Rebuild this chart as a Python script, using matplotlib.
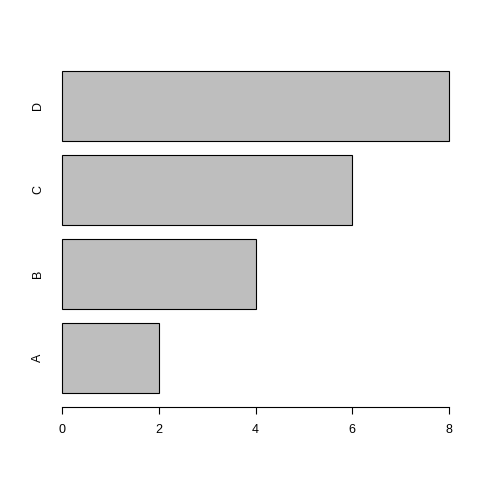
import matplotlib.pyplot as plt

labels = ["A", "B", "C", "D"]
values = [2, 4, 6, 8]
xticks = [0, 2, 4, 6, 8]

plt.rcParams['font.family'] = ['Liberation Sans', 'DejaVu Sans']

fig = plt.figure(figsize=(4.8, 4.8), dpi=100)
# axes placed in pixel terms like R's plot region
ax = fig.add_axes([62 / 480, (480 - 407) / 480, 387 / 480, 348 / 480])

# R barplot style: width 1, space 0.2
width, space = 1.0, 0.2
centers = [space + i * (width + space) + width / 2 for i in range(len(values))]
bars = ax.barh(centers, values, height=width, color="#bebebe", edgecolor="black", linewidth=0.8)
for b in bars:
    b.set_clip_on(False)

ax.set_xlim(0, 8)
ax.set_ylim(0, 4.97)

for s in ["top", "right", "left"]:
    ax.spines[s].set_visible(False)
ax.spines["bottom"].set_bounds(0, 8)
ax.spines["bottom"].set_linewidth(0.8)

ax.set_xticks(xticks)
ax.set_xticklabels([str(t) for t in xticks])
ax.tick_params(axis="x", length=5, width=0.8, labelsize=9, pad=7.5)

ax.set_yticks(centers)
ax.set_yticklabels(labels, rotation=90, va="center")
ax.tick_params(axis="y", length=0, labelsize=9, pad=13)

fig.savefig("out.png", dpi=100)
